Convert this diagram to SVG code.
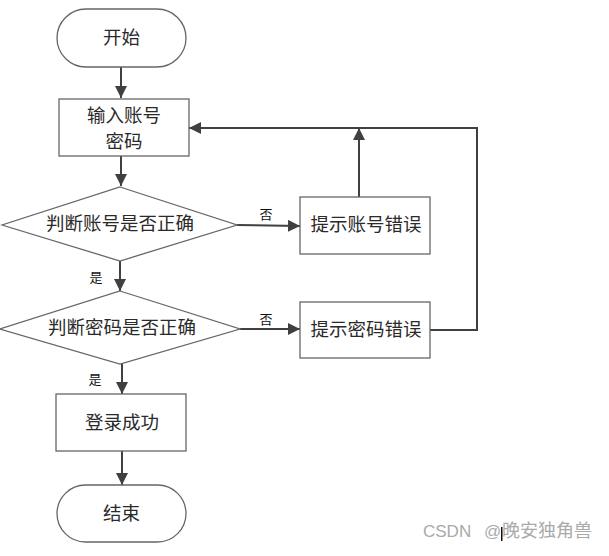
<svg xmlns="http://www.w3.org/2000/svg" width="609" height="556" viewBox="0 0 609 556">
<style>
.n{fill:#fff;stroke:#666;stroke-width:1.3}
.t{font-family:"Liberation Serif","Noto Sans CJK SC",serif;font-size:18.5px;fill:#2a2a2a;text-anchor:middle;dominant-baseline:central}
.l{font-family:"Noto Sans CJK SC",sans-serif;font-size:13px;fill:#111;text-anchor:middle;dominant-baseline:central}
.c{fill:none;stroke:#404040;stroke-width:2}
</style>
<defs>
<marker id="b" viewBox="0 0 12 12" refX="12" refY="6" markerWidth="12" markerHeight="12" markerUnits="userSpaceOnUse" orient="auto">
<path d="M0,0 L12,6 L0,12 z" fill="#404040"/>
</marker>
</defs>
<g id="connectors">
<path class="c" d="M121,67 V98" marker-end="url(#b)"/>
<path class="c" d="M121,156 V186" marker-end="url(#b)"/>
<path class="c" d="M237,225 L300,226" marker-end="url(#b)"/>
<path class="c" d="M359,197 V128" marker-end="url(#b)"/>
<path class="c" d="M430,330 H477 V128 H189" marker-end="url(#b)"/>
<path class="c" d="M120,261 V291" marker-end="url(#b)"/>
<path class="c" d="M240,329 L300,329" marker-end="url(#b)"/>
<path class="c" d="M122,364 V394" marker-end="url(#b)"/>
<path class="c" d="M122,451 V485" marker-end="url(#b)"/>
<text class="l" x="266" y="213">否</text>
<text class="l" x="96" y="276">是</text>
<text class="l" x="266" y="318">否</text>
<text class="l" x="95" y="378">是</text>
</g>
<g id="start"><rect class="n" x="57" y="9" width="129" height="58" rx="29"/><text class="t" x="121.5" y="38">开始</text></g>
<g id="input"><rect class="n" x="59" y="99" width="130" height="57"/><text class="t" x="124" y="116">输入账号</text><text class="t" x="124" y="142">密码</text></g>
<g id="check-account"><path class="n" d="M120,187 L237,225 L120,261 L2,225 Z"/><text class="t" x="120" y="224">判断账号是否正确</text></g>
<g id="account-error"><rect class="n" x="300" y="197" width="130" height="57"/><text class="t" x="366" y="225">提示账号错误</text></g>
<g id="check-password"><path class="n" d="M120,291 L240,329 L120,364 L0,329 Z"/><text class="t" x="122" y="328">判断密码是否正确</text></g>
<g id="password-error"><rect class="n" x="300" y="302" width="130" height="56"/><text class="t" x="366" y="330">提示密码错误</text></g>
<g id="success"><rect class="n" x="56" y="394" width="130" height="57"/><text class="t" x="122" y="423">登录成功</text></g>
<g id="end"><rect class="n" x="57" y="485" width="129" height="57" rx="28.5"/><text class="t" x="121.5" y="514">结束</text></g>
<text x="423" y="537" font-family="'Liberation Sans','Noto Sans CJK SC',sans-serif" font-size="17" fill="#aaa">CSDN <tspan x="484">@</tspan><tspan x="502" font-size="18">晚安独角兽</tspan></text>
<rect x="501" y="527" width="1.5" height="14" fill="#111"/>
</svg>
